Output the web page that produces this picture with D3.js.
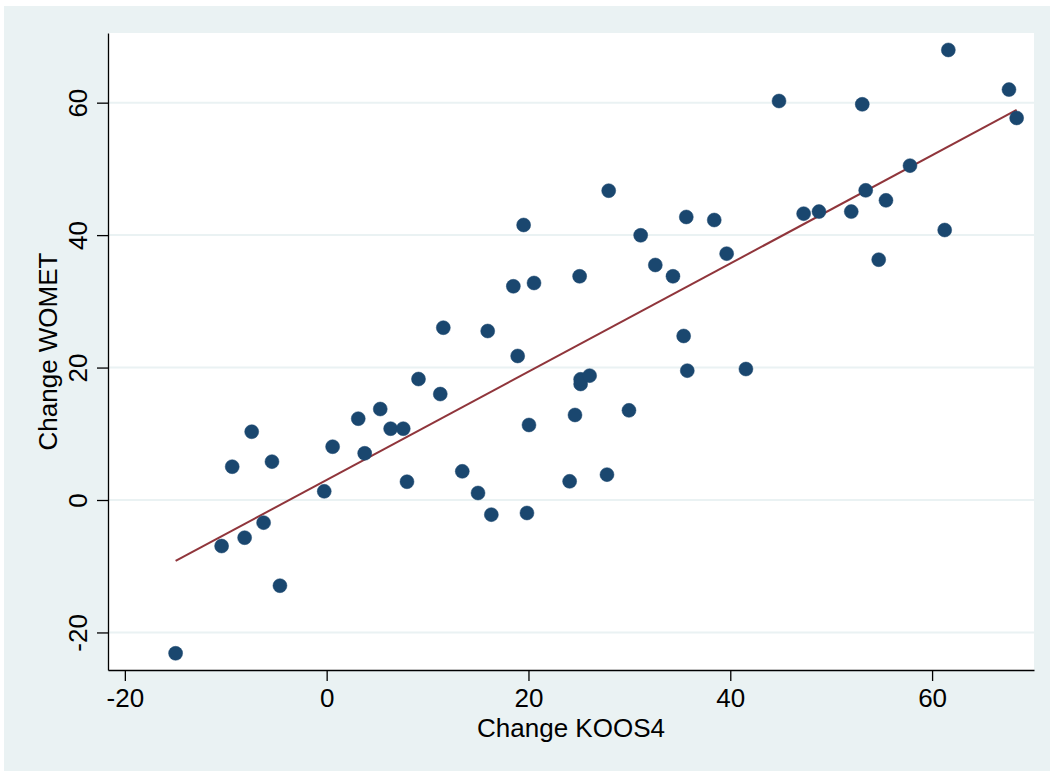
<!DOCTYPE html>
<html>
<head>
<meta charset="utf-8">
<script src="https://cdn.jsdelivr.net/npm/d3@7"></script>
<style>
  html, body { margin: 0; padding: 0; background: #ffffff; }
  svg { display: block; }
  text { font-family: "Liberation Sans", Arial, Helvetica, sans-serif; fill: #000; }
</style>
</head>
<body>
<svg id="chart" width="1050" height="771"></svg>
<script>
// ---- data ----
const koos4 = [-14.97, -10.41, -9.36, -7.43, -8.13, -6.25, -5.42, -4.63, -0.24, 0.59,
  3.13, 3.77, 5.31, 6.34, 7.59, 7.96, 9.1, 11.26, 11.56, 13.44,
  15.0, 15.96, 16.32, 18.5, 18.93, 19.52, 19.85, 20.05, 20.55, 24.08,
  24.61, 25.07, 25.17, 25.17, 26.06, 27.78, 27.95, 29.96, 31.12, 32.57,
  34.32, 35.38, 35.64, 35.74, 38.41, 39.64, 41.55, 44.83, 47.27, 48.79,
  51.99, 53.08, 53.42, 54.71, 55.43, 57.81, 61.25, 61.61, 67.62, 68.38];
const womet = [-23.15, -6.95, 5.03, 10.31, -5.69, -3.42, 5.79, -12.94, 1.31, 8.05,
  12.28, 7.05, 13.74, 10.77, 10.77, 2.76, 18.27, 16.0, 26.02, 4.33,
  1.06, 25.52, -2.21, 32.27, 21.75, 41.53, -1.96, 11.33, 32.77, 2.82,
  12.84, 33.78, 17.52, 18.22, 18.78, 3.83, 46.71, 13.54, 39.97, 35.49,
  33.78, 24.77, 42.74, 19.53, 42.28, 37.2, 19.78, 60.25, 43.24, 43.55,
  43.55, 59.75, 46.76, 36.29, 45.25, 50.49, 40.77, 67.96, 61.97, 57.69];
const fitX = [-14.97, 68.38];
const fitY = [-9.2, 58.9];
const xTicks = [-20, 0, 20, 40, 60];
const yTicks = [-20, 0, 20, 40, 60];
const xTitle = "Change KOOS4";
const yTitle = "Change WOMET";

// ---- layout ----
const W = 1050, H = 771;
const plot = { left: 108, right: 1034, top: 33, bottom: 670 };
const bg = "#eaf2f3";
const navy = "#1a476f";
const maroon = "#90353b";
const fontSize = 26;
const fmt = d => String(d); // plain hyphen-minus like the reference

const svg = d3.select("#chart");

svg.append("rect").attr("x", 4).attr("y", 6).attr("width", W - 4).attr("height", H - 6)
  .attr("fill", bg);
svg.append("rect").attr("x", plot.left).attr("y", plot.top)
  .attr("width", plot.right - plot.left).attr("height", plot.bottom - plot.top)
  .attr("fill", "#ffffff");

const x = d3.scaleLinear().domain([-21.67, 70.1]).range([plot.left, plot.right]);
const y = d3.scaleLinear().domain([-25.67, 70.52]).range([plot.bottom, plot.top]);

// gridlines
svg.append("g").selectAll("line").data(yTicks).join("line")
  .attr("x1", plot.left).attr("x2", plot.right)
  .attr("y1", d => y(d)).attr("y2", d => y(d))
  .attr("stroke", bg).attr("stroke-width", 2);

// axes
const xAxis = d3.axisBottom(x).tickValues(xTicks).tickSize(11).tickPadding(4).tickSizeOuter(0)
  .tickFormat(fmt);
const gx = svg.append("g").attr("transform", `translate(0,${plot.bottom})`).call(xAxis);
gx.attr("font-family", null);
gx.select(".domain").attr("stroke", "#000").attr("stroke-width", 1.3);
gx.selectAll(".tick line").attr("stroke", "#000").attr("stroke-width", 1.3);
gx.selectAll(".tick text").attr("font-size", fontSize).attr("fill", "#000")
  .attr("dy", null).attr("y", 37);

const yAxis = d3.axisLeft(y).tickValues(yTicks).tickSize(11).tickSizeOuter(0)
  .tickFormat(fmt);
const gy = svg.append("g").attr("transform", `translate(${plot.left},0)`).call(yAxis);
gy.attr("font-family", null);
gy.select(".domain").attr("stroke", "#000").attr("stroke-width", 1.3);
gy.selectAll(".tick line").attr("stroke", "#000").attr("stroke-width", 1.3);
gy.selectAll(".tick text").attr("font-size", fontSize).attr("fill", "#000")
  .attr("x", null).attr("dy", null)
  .attr("text-anchor", "middle")
  .attr("transform", "translate(-21,0) rotate(-90)");

// fit line
const line = d3.line().x(d => x(d[0])).y(d => y(d[1]));
svg.append("path").datum(fitX.map((v, i) => [v, fitY[i]]))
  .attr("d", line).attr("fill", "none").attr("stroke", maroon).attr("stroke-width", 2);

// points
svg.append("g").selectAll("circle").data(koos4.map((v, i) => [v, womet[i]])).join("circle")
  .attr("cx", d => x(d[0])).attr("cy", d => y(d[1])).attr("r", 7)
  .attr("fill", navy).attr("stroke", navy).attr("stroke-width", 0.5);

// titles
svg.append("text").attr("x", (plot.left + plot.right) / 2).attr("y", 737)
  .attr("text-anchor", "middle").attr("font-size", fontSize).text(xTitle);
svg.append("text")
  .attr("transform", `translate(57,${(plot.top + plot.bottom) / 2}) rotate(-90)`)
  .attr("text-anchor", "middle").attr("font-size", fontSize).text(yTitle);
</script>
</body>
</html>
